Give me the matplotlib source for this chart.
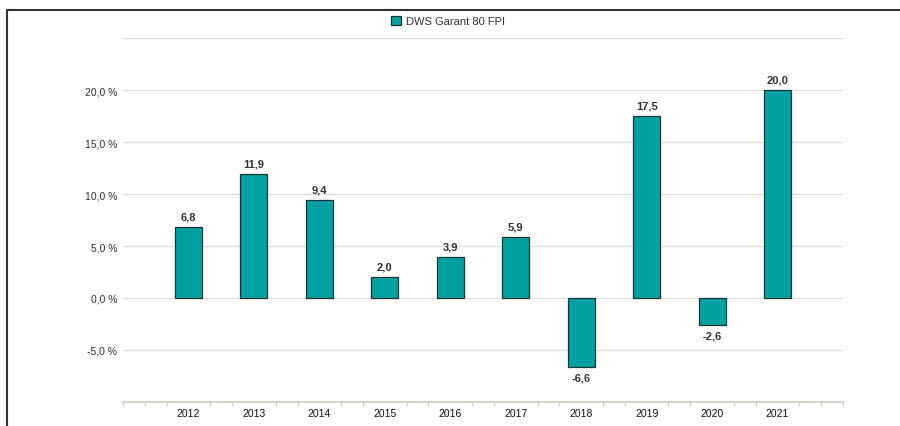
import matplotlib.pyplot as plt
import matplotlib.patches as mpatches
import numpy as np

plt.rcParams["font.family"] = ["Liberation Sans", "DejaVu Sans"]

years = [2012, 2013, 2014, 2015, 2016, 2017, 2018, 2019, 2020, 2021]
returns = [6.8, 11.9, 9.4, 2.0, 3.9, 5.9, -6.6, 17.5, -2.6, 20.0]
y_ticks = [-5, 0, 5, 10, 15, 20]
grid_lines = [-5, 0, 5, 10, 15, 20, 25]
series_name = "DWS Garant 80 FPI"

BAR = "#00a0a0"
EDGE = "#1e3434"
GRID = "#e2dfd8"
AXIS = "#d6d2c8"
TEXT = "#333333"

fig = plt.figure(figsize=(9, 4.27), dpi=100)
ax = fig.add_axes([123 / 900, 1 - 403 / 427, 720 / 900, 364 / 427])

ax.bar(years, returns, width=0.41, color=BAR, edgecolor=EDGE, linewidth=0.9, zorder=3)

for x, v in zip(years, returns):
    lbl = f"{v:.1f}".replace(".", ",")
    if v >= 0:
        ax.annotate(lbl, (x, v), xytext=(0, 4), textcoords="offset points",
                    ha="center", va="bottom", fontsize=8, fontweight="bold", color=TEXT)
    else:
        ax.annotate(lbl, (x, v), xytext=(0, -4), textcoords="offset points",
                    ha="center", va="top", fontsize=8, fontweight="bold", color=TEXT)

ax.set_xlim(2011, 2022)
ax.set_ylim(-10, 25)

for g in grid_lines:
    ax.axhline(g, color=GRID, linewidth=1.0, zorder=1)

ax.set_yticks(y_ticks)
ax.set_yticklabels([f"{t:.1f} %".replace(".", ",") for t in y_ticks])
ax.tick_params(axis="y", length=0, pad=4, labelsize=7.5, labelcolor=TEXT)

ax.set_xticks(years)
ax.set_xticklabels([str(y) for y in years])
ax.tick_params(axis="x", length=0, pad=4, labelsize=7.5, labelcolor="#111111")
minor = [2011 + i / 3 for i in range(34) if i % 3 != 0] + [2011, 2022]
ax.set_xticks(minor, minor=True)
ax.tick_params(axis="x", which="minor", length=3, width=1.0, color=AXIS, direction="out")

for s in ["top", "right", "left"]:
    ax.spines[s].set_visible(False)
ax.spines["bottom"].set_color(AXIS)
ax.spines["bottom"].set_linewidth(1.5)

handle = mpatches.Patch(facecolor=BAR, edgecolor=EDGE, linewidth=0.9, label=series_name)
fig.legend(handles=[handle], loc="center", bbox_to_anchor=(448 / 900, 1 - 22 / 427),
           frameon=False, fontsize=8, handlelength=0.9, handleheight=0.9,
           handletextpad=0.5, labelcolor=TEXT)

border = mpatches.Rectangle((7 / 900, -0.2), 1.2, 1.2 - 11 / 427 + 0.0,
                            transform=fig.transFigure, fill=False,
                            edgecolor="#333333", linewidth=1.5)
fig.patches.append(border)

fig.savefig("out.png", dpi=100)
